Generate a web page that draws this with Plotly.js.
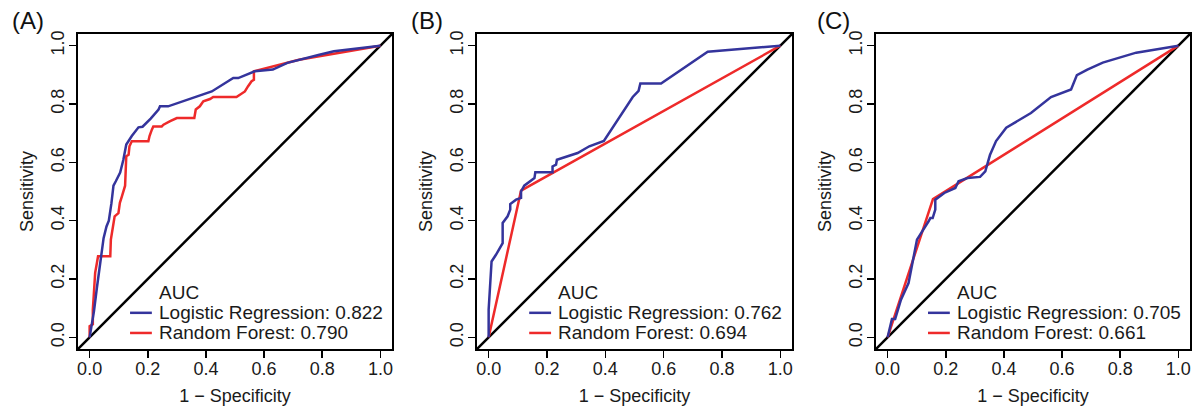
<!DOCTYPE html>
<html>
<head>
<meta charset="utf-8">
<script src="https://cdn.plot.ly/plotly-3.0.1.min.js"></script>
<style>html,body{margin:0;padding:0;background:#fff;}#chart{width:1198px;height:407px;}</style>
</head>
<body>
<div id="chart"></div>
<script>
// ---------- data ----------
const panelLabels = ['(A)', '(B)', '(C)'];
const modelNames = ['Logistic Regression', 'Random Forest'];
const aucA = [0.822, 0.790];
const aucB = [0.762, 0.694];
const aucC = [0.705, 0.661];
const tickVals = [0, 0.2, 0.4, 0.6, 0.8, 1.0];

// Panel A
const lrA_x = [0, 0.005, 0.015, 0.025, 0.037, 0.048, 0.058, 0.066, 0.075, 0.082, 0.09, 0.105, 0.116, 0.126, 0.145, 0.168, 0.182, 0.21, 0.237, 0.242, 0.27, 0.3, 0.37, 0.42, 0.46, 0.494, 0.511, 0.568, 0.63, 0.68, 0.79, 0.84, 1];
const lrA_y = [0, 0.03, 0.09, 0.17, 0.255, 0.34, 0.38, 0.40, 0.46, 0.52, 0.535, 0.565, 0.609, 0.661, 0.69, 0.72, 0.722, 0.75, 0.781, 0.792, 0.792, 0.803, 0.826, 0.843, 0.868, 0.889, 0.889, 0.912, 0.918, 0.941, 0.969, 0.981, 1];
const rfA_x = [0, 0, 0.011, 0.011, 0.014, 0.019, 0.025, 0.029, 0.034, 0.071, 0.073, 0.08, 0.086, 0.099, 0.104, 0.111, 0.119, 0.122, 0.126, 0.134, 0.137, 0.145, 0.202, 0.206, 0.214, 0.219, 0.248, 0.254, 0.277, 0.3, 0.36, 0.365, 0.379, 0.391, 0.414, 0.425, 0.505, 0.517, 0.534, 0.545, 0.557, 0.565, 0.565, 0.72, 1];
const rfA_y = [0, 0.038, 0.045, 0.095, 0.141, 0.221, 0.255, 0.278, 0.278, 0.278, 0.335, 0.381, 0.415, 0.426, 0.461, 0.483, 0.518, 0.52, 0.621, 0.626, 0.655, 0.672, 0.672, 0.69, 0.712, 0.723, 0.723, 0.729, 0.741, 0.752, 0.752, 0.781, 0.792, 0.809, 0.817, 0.824, 0.824, 0.832, 0.843, 0.861, 0.878, 0.883, 0.912, 0.952, 1];

// Panel B
const lrB_x = [0, 0, 0.01, 0.025, 0.048, 0.048, 0.065, 0.074, 0.074, 0.094, 0.111, 0.111, 0.122, 0.157, 0.16, 0.219, 0.219, 0.231, 0.234, 0.305, 0.345, 0.395, 0.494, 0.514, 0.52, 0.591, 0.751, 1];
const lrB_y = [0, 0.095, 0.26, 0.283, 0.323, 0.392, 0.415, 0.438, 0.457, 0.472, 0.478, 0.5, 0.52, 0.546, 0.566, 0.566, 0.586, 0.592, 0.609, 0.632, 0.655, 0.673, 0.824, 0.845, 0.87, 0.87, 0.979, 1];
const rfB_x = [0, 0.111, 1];
const rfB_y = [0, 0.503, 1];

// Panel C
const lrC_x = [0, 0.015, 0.026, 0.046, 0.072, 0.101, 0.141, 0.147, 0.155, 0.164, 0.164, 0.195, 0.233, 0.244, 0.275, 0.318, 0.336, 0.352, 0.373, 0.408, 0.493, 0.562, 0.631, 0.651, 0.687, 0.74, 0.855, 1];
const lrC_y = [0, 0.063, 0.063, 0.129, 0.186, 0.335, 0.398, 0.409, 0.409, 0.438, 0.472, 0.495, 0.512, 0.535, 0.546, 0.55, 0.569, 0.625, 0.673, 0.719, 0.769, 0.824, 0.85, 0.899, 0.918, 0.942, 0.976, 1];
const rfC_x = [0, 0.156, 1];
const rfC_y = [0, 0.474, 1];

const diag = [-0.04, 1.04];

// ---------- style ----------
const BLUE = '#34349c';
const RED = '#ee2a2a';
const FONT = 'Liberation Sans, Arial, Helvetica, sans-serif';
const TXT = '#1a1a1a';
const axRange = [-0.04, 1.04];

const panels = [
  {lx: lrA_x, ly: lrA_y, rx: rfA_x, ry: rfA_y, auc: aucA, dom: [0, 0.2824]},
  {lx: lrB_x, ly: lrB_y, rx: rfB_x, ry: rfB_y, auc: aucB, dom: [0.3588, 0.6421]},
  {lx: lrC_x, ly: lrC_y, rx: rfC_x, ry: rfC_y, auc: aucC, dom: [0.7176, 1.0]}
];

const traces = [];
const layout = {
  width: 1198, height: 407,
  margin: {l: 78, r: 8, t: 34, b: 58},
  paper_bgcolor: '#fff', plot_bgcolor: '#fff',
  showlegend: false,
  font: {family: FONT, size: 18, color: TXT},
  annotations: [], shapes: []
};

panels.forEach((p, i) => {
  const sfx = i === 0 ? '' : String(i + 1);
  const xa = 'x' + sfx, ya = 'y' + sfx;
  traces.push({x: diag, y: diag, xaxis: xa, yaxis: ya, mode: 'lines', line: {color: '#000', width: 2.5}, hoverinfo: 'skip'});
  traces.push({x: p.rx, y: p.ry, xaxis: xa, yaxis: ya, mode: 'lines', name: modelNames[1], line: {color: RED, width: 2.5}});
  traces.push({x: p.lx, y: p.ly, xaxis: xa, yaxis: ya, mode: 'lines', name: modelNames[0], line: {color: BLUE, width: 2.5}});

  const common = {
    range: axRange, tickvals: tickVals, ticktext: tickVals.map(v => v.toFixed(1)),
    ticks: 'outside', ticklen: 7, tickwidth: 1.5, tickcolor: '#000',
    showline: true, mirror: true, linecolor: '#000', linewidth: 2,
    showgrid: false, zeroline: false, fixedrange: true,
    tickfont: {family: FONT, size: 18, color: TXT}
  };
  layout['xaxis' + sfx] = Object.assign({}, common, {
    domain: p.dom, anchor: ya, ticklabelstandoff: -5,
    title: {text: '1 \u2212 Specificity', font: {family: FONT, size: 18, color: TXT}, standoff: 12}
  });
  layout['yaxis' + sfx] = Object.assign({}, common, {
    domain: [0, 1], anchor: xa, tickangle: -90, ticklabelstandoff: -2,
    title: {text: 'Sensitivity', font: {family: FONT, size: 18, color: TXT}, standoff: 9}
  });

  // panel label
  const px0 = [-0.0612, 0.2977, 0.6628][i];
  layout.annotations.push({text: panelLabels[i], xref: 'paper', yref: 'paper', x: px0, y: 1.044,
    xanchor: 'left', yanchor: 'middle', showarrow: false, font: {family: FONT, size: 24, color: '#111'}});

  // legend (AUC)
  layout.annotations.push({text: 'AUC', xref: xa, yref: ya, x: 0.232, y: 0.153, xanchor: 'left', yanchor: 'middle',
    showarrow: false, font: {family: FONT, size: 19, color: TXT}});
  const ys = [0.084, 0.015];
  const cols = [BLUE, RED];
  for (let k = 0; k < 2; k++) {
    layout.annotations.push({text: modelNames[k] + ': ' + p.auc[k].toFixed(3), xref: xa, yref: ya, x: 0.232, y: ys[k],
      xanchor: 'left', yanchor: 'middle', showarrow: false, font: {family: FONT, size: 19, color: TXT}});
    layout.shapes.push({type: 'line', xref: xa, yref: ya, x0: 0.139, x1: 0.214, y0: ys[k], y1: ys[k],
      line: {color: cols[k], width: 2.5}});
  }
});

Plotly.newPlot('chart', traces, layout, {displayModeBar: false, staticPlot: true});
</script>
</body>
</html>
